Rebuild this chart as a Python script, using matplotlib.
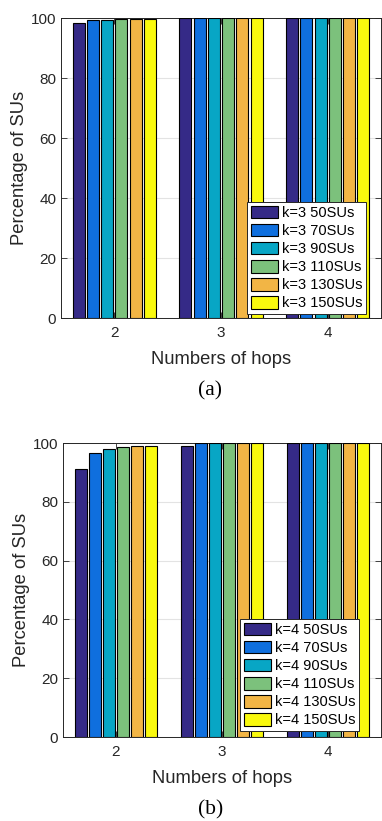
import numpy as np
import matplotlib.pyplot as plt
plt.switch_backend('agg')

hops = [2, 3, 4]
sizes = ['50SUs', '70SUs', '90SUs', '110SUs', '130SUs', '150SUs']
colors = ['#352a87', '#0f6fde', '#08a6c5', '#7cc17c', '#f2b545', '#f9f90e']

# percentage of SUs, rows = hops, cols = network size
k3 = [[98.2, 99.2, 99.3, 99.6, 99.8, 99.6],
      [100, 100, 100, 100, 100, 100],
      [100, 100, 100, 100, 100, 100]]
k4 = [[91.3, 96.6, 98.0, 98.5, 99.0, 99.0],
      [98.9, 100, 100, 100, 100, 100],
      [100, 100, 100, 100, 100, 100]]

W, H = 382, 821
fig = plt.figure(figsize=(W/100, H/100), dpi=100)
plt.rcParams['font.family'] = ['Liberation Sans', 'DejaVu Sans']

def panel(rect, data, k, leg_rect, caption, cap_y):
    ax = fig.add_axes(rect)
    data = np.array(data)
    n = data.shape[1]
    pitch = 0.8 / n
    x = np.array(hops, dtype=float)
    for j in range(n):
        ax.bar(x - 0.4 + pitch*(j + 0.5), data[:, j], width=pitch*0.84,
               color=colors[j], edgecolor='black', linewidth=0.8,
               label='k=%d %s' % (k, sizes[j]), zorder=3)
    ax.set_xlim(1.5, 4.5)
    ax.set_ylim(0, 100)
    ax.set_xticks(hops)
    ax.set_yticks(range(0, 101, 20))
    ax.grid(True, axis='y', color='#e3e3e3', linewidth=0.8, zorder=0)
    ax.tick_params(direction='in', top=True, right=True, labelsize=11,
                   colors='#262626', length=4, width=0.6)
    ax.tick_params(axis='x', pad=6)
    for s in ax.spines.values():
        s.set_color('#262626')
        s.set_linewidth(0.7)
    ax.set_xlabel('Numbers of hops', fontsize=13.2, color='#262626', labelpad=8)
    ax.set_ylabel('Percentage of SUs', fontsize=13.2, color='#262626', labelpad=2)
    leg = ax.legend(loc='upper left', bbox_to_anchor=leg_rect,
                    bbox_transform=fig.transFigure, fontsize=10.5,
                    frameon=True, fancybox=False, edgecolor='#262626',
                    handlelength=1.85, handleheight=0.95, handletextpad=0.27,
                    labelspacing=0.26, borderpad=0.25, borderaxespad=0,
                    framealpha=1)
    leg.get_frame().set_linewidth(0.7)
    leg.set_zorder(5)
    fig.text(rect[0] + rect[2]*0.465, cap_y, caption, ha='center', va='center',
             fontsize=15.5, family='Liberation Serif')
    return ax

panel([61/W, 1 - 318/H, 320/W, 300/H], k3, 3,
      (247/W, 1 - 202/H), '(a)', 1 - 391/H)
panel([63/W, 1 - 737/H, 318/W, 294/H], k4, 4,
      (240/W, 1 - 619/H), '(b)', 1 - 810/H)

fig.savefig('out.png', dpi=100)
